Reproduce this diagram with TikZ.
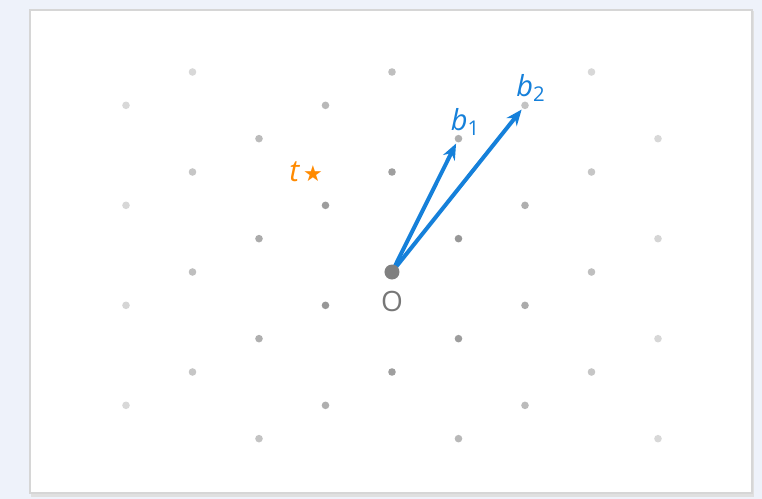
\documentclass[tikz,border=0pt]{standalone}
\usepackage{fontspec}
\setmainfont{Open Sans}
\newfontfamily\starfont{DejaVu Sans}
\usetikzlibrary{arrows.meta,positioning,calc,backgrounds}
\definecolor{lpage}{HTML}{EEF2FA}
\definecolor{lblue}{HTML}{1580DA}
\definecolor{lorange}{HTML}{FF8A00}
\definecolor{lgray}{HTML}{808080}
\definecolor{ltext}{HTML}{777777}
\tikzset{
  card/.style={fill=white,draw=black!16,line width=0.6pt},
  shade/.style={fill=black!12},
  lpt/.style={circle,fill=lgray,inner sep=0,minimum size=3.8pt},
  orig/.style={circle,fill=lgray,inner sep=0,minimum size=7.5pt},
  vec/.style={-{Stealth[length=8pt,width=6.5pt]},line width=2pt,draw=lblue,shorten >=0.6pt},
  vlbl/.style={font=\fontsize{14.5}{16}\selectfont,text=lblue,inner sep=0},
  tlbl/.style={font=\fontsize{15}{17}\selectfont\itshape,text=lorange,inner sep=0},
  olbl/.style={font=\fontsize{14}{16}\selectfont,text=ltext,inner sep=0},
}
\newcommand{\bvec}[1]{\textit{b}\textsubscript{#1}}

\begin{document}
\begin{tikzpicture}[x=0.5pt,y=0.5pt]
  % page and card
  \begin{scope}[on background layer]
  \fill[lpage] (-392,-227) rectangle (370,272);
  \fill[shade] (-361,-225) rectangle (362,261);
  \draw[card] (-362,-221) rectangle (360,262);
  \end{scope}
  % lattice
  \node[orig] (O) at (0,0) {};
  \foreach \i in {-4,...,4} {
    \foreach \j in {-4,...,4} {
      \pgfmathsetmacro{\px}{66.5*\i}
      \pgfmathsetmacro{\py}{33.33*\i+100*\j}
      \pgfmathtruncatemacro{\keep}{(\py>-175)*(\py<210)*((abs(\i)+abs(\j))>0)}
      \pgfmathtruncatemacro{\ni}{\i+4}
      \pgfmathtruncatemacro{\nj}{\j+4}
      \ifnum\keep=1
        \pgfmathsetmacro{\op}{max(0.3,1-veclen(\px,\py)/400)}
        \node[lpt,opacity=\op] (p\ni\nj) at (\px,\py) {};
      \fi
    }
  }
  \node[olbl,below=5.25pt of O] (lo) {O};
  % basis vectors
  \begin{scope}[on background layer]
  \draw[vec] (O.center) -- (p55);
  \draw[vec] (O.center) -- (p65);
  \end{scope}
  \node[vlbl,anchor=base] (lb1) at ($(p55)+(7,8)$) {\bvec{1}};
  \node[vlbl,anchor=base] (lb2) at ($(p65)+(6,9)$) {\bvec{2}};
  % target
  \node[font=\starfont\fontsize{11}{13}\selectfont,text=lorange,inner sep=0] (t) at (-79,98) {★};
  \node[tlbl,anchor=base east] (lt) at ($(t.base west)+(-3,0)$) {t};
\end{tikzpicture}
\end{document}
